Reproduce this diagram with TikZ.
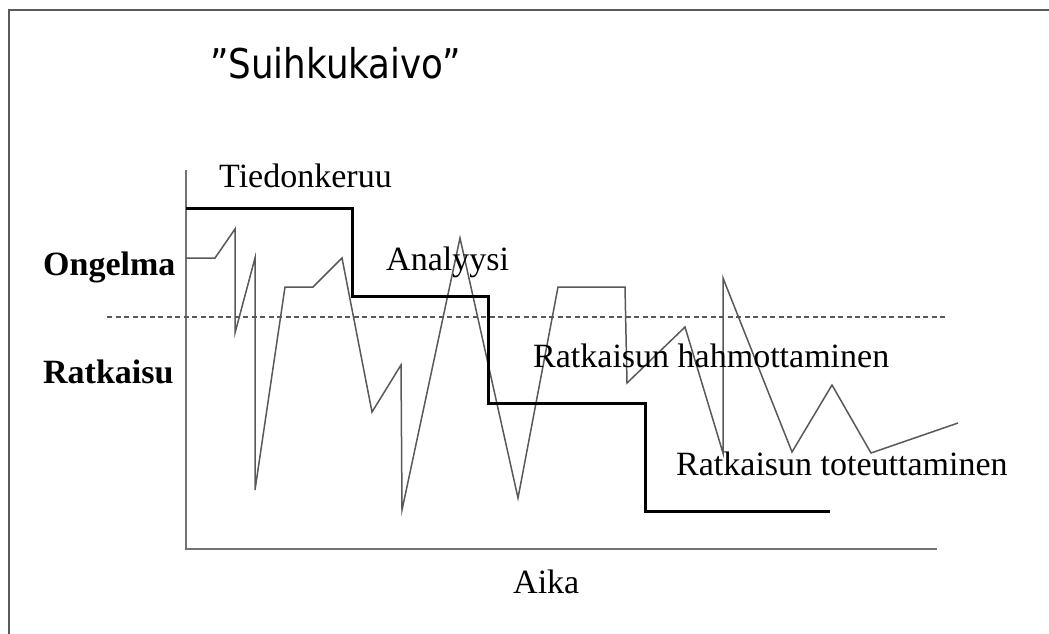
\documentclass[tikz,border=0pt]{standalone}
\usepackage{graphicx}
\usepackage{fontspec}
\setmainfont{Liberation Serif}
\newfontfamily\titlefont{DejaVu Sans}
\begin{document}
\begin{tikzpicture}[x=1pt,y=-1pt,
  lbl/.style={anchor=base west,inner sep=0pt,font=\fontsize{34}{40}\selectfont},
  blbl/.style={lbl,font=\fontsize{34}{40}\selectfont\bfseries},
  frameline/.style={draw=black!65,line width=2pt},
  axisline/.style={draw=black!55,line width=1.8pt},
  thinline/.style={draw=black!65,line width=1.5pt,line join=miter},
  thickline/.style={draw=black,line width=3pt,line join=miter},
  dashline/.style={draw=black!65,line width=1.2pt,dash pattern=on 5pt off 3.5pt}]
\useasboundingbox (0,0) rectangle (1049,634);
\fill[white] (0,0) rectangle (1049,634);
% frame
\draw[frameline] (9,634) -- (9,10) -- (1049,10);
% title
\node[anchor=base west,inner sep=0pt,font=\titlefont\fontsize{41}{48}\selectfont] (title) at (210,78) {\scalebox{0.87}[1]{”Suihkukaivo”}};
% axes
\draw[axisline] (186,170) -- (186,549) -- (937,549);
% dashed separator
\draw[dashline] (107,317) -- (946,317);
% thin zigzag
\draw[thinline] (186,258) -- (215,258) -- (235,229) -- (235,333) -- (255,258) -- (255,490)
  -- (285,287) -- (313,287) -- (342,258) -- (372,412) -- (401,365) -- (402,510)
  -- (460,238) -- (518,498) -- (558,287) -- (625,287) -- (627,383) -- (685,327)
  -- (723,453) -- (723,278) -- (792,452) -- (832,385) -- (871,453) -- (958,423);
% thick staircase
\draw[thickline] (186,208) -- (352,208) -- (352,296) -- (488,296) -- (488,403)
  -- (645,403) -- (645,511) -- (830,511);
% labels
\node[lbl] (tied) at (219,187) {Tiedonkeruu};
\node[lbl] (anal) at (386,270) {Analyysi};
\node[blbl] (ong) at (43,275) {Ongelma};
\node[blbl] (rat) at (43,383) {Ratkaisu};
\node[lbl] (hahm) at (533,367) {Ratkaisun hahmottaminen};
\node[lbl] (tot) at (676,475) {Ratkaisun toteuttaminen};
\node[lbl] (aika) at (513,593) {Aika};
\end{tikzpicture}
\end{document}
